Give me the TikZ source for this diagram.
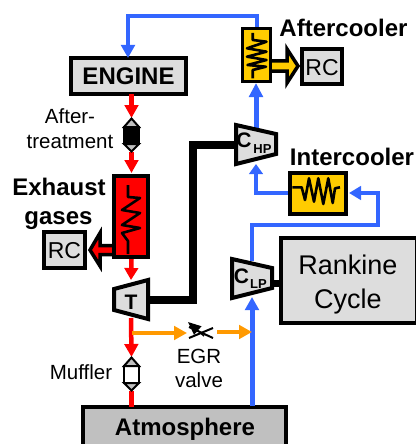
\documentclass[tikz,border=0pt]{standalone}
\usepackage{fontspec}
\setmainfont{Liberation Sans}
\usetikzlibrary{arrows.meta}
\definecolor{bl}{HTML}{3366FF}
\definecolor{rd}{HTML}{FF0000}
\definecolor{og}{HTML}{FF9900}
\definecolor{yl}{HTML}{FFCC00}
\definecolor{gy}{HTML}{DDDDDD}
\definecolor{gd}{HTML}{C0C0C0}
\newcommand{\fs}[1]{\fontsize{#1}{#1}\selectfont}
\tikzset{
 x=1pt,y=-1pt,
 boxn/.style={draw=black,line width=4pt,fill=gy,inner sep=0pt,outer sep=0pt},
 lab/.style={inner sep=0pt,outer sep=0pt,anchor=base,align=center},
 big/.style={lab,font=\fs{24}\bfseries},
 reg/.style={lab,font=\fs{20.5}},
 tipd/.style={-{Triangle[length=#1,width=13.5pt]}},
 blflow/.style={draw=bl,line width=4.4pt},
 rdflow/.style={draw=rd,line width=4.5pt},
 ogflow/.style={draw=og,line width=4pt},
 coil/.style={draw=black,line width=2.6pt,line join=round},
 machine/.style={draw=black,line width=4pt,fill=gy,line join=miter},
 catal/.style={draw=black,line width=2pt,line join=miter},
 shaftl/.style={draw=black,line width=8pt,line join=miter},
 rcarrow/.style={draw=black,line width=3.5pt,line join=miter},
}
\begin{document}
\begin{tikzpicture}
\useasboundingbox (0,0) rectangle (415,444);
% named points
\coordinate (hpL) at (236,144.5);
\coordinate (hpT) at (256,129);
\coordinate (hpB) at (256,164);
\coordinate (lpT) at (252,261);
\coordinate (lpB) at (252,297);
\coordinate (lpR) at (272,283);
\coordinate (tR) at (148,299.5);
\coordinate (tT) at (131,280);
\coordinate (tB) at (131,318);
\coordinate (atTop) at (131.5,118);
\coordinate (atBot) at (131.5,152);
\coordinate (mfTop) at (131.5,357);
\coordinate (mfBot) at (131.5,391);
\coordinate (egrS) at (132,333);
\coordinate (egrT) at (187,333);
\coordinate (egrO) at (217,332);
\coordinate (egrE) at (252,332);
\coordinate (blueA) at (128,16);
\coordinate (blueB) at (257,16);
\coordinate (blueC) at (252,225);
\coordinate (blueD) at (378,225);
\coordinate (blueE) at (378,193);
\coordinate (blueF) at (256,193);
% boxes
\node[boxn,minimum width=115pt,minimum height=36pt] (engine) at (128.5,76) {};
\node[boxn,minimum width=40pt,minimum height=35pt] (rcr) at (322,66.5) {};
\node[boxn,minimum width=41pt,minimum height=36pt] (rcl) at (64.5,250) {};
\node[boxn,minimum width=136pt,minimum height=85pt] (rank) at (349,280.5) {};
\node[boxn,fill=gd,minimum width=203pt,minimum height=50pt] (atm) at (184.5,432) {};
% shafts
\draw[shaftl] (tR) -- (193,299.5) -- (193,144.5) -- (hpL);
\draw[draw=black,line width=7pt] (lpR) -- (rank.west |- lpR);
% flows
\draw[blflow,tipd=13pt] (257,30) -- (blueB) -- (blueA) -- (engine.north -| blueA);
\draw[blflow,line width=5pt,tipd=14pt] (hpT) -- (256,83);
\draw[blflow,tipd=10pt] (288,193) -- (blueF) -- (hpB);
\draw[blflow,tipd=12pt] (lpT) -- (blueC) -- (blueD) -- (blueE) -- (349,193);
\draw[blflow,line width=5pt,tipd=13pt] (252,406) -- (lpB);
\draw[rdflow,tipd=13pt] (engine.south -| atTop) -- (atTop);
\draw[rdflow,tipd=13pt] (atBot) -- (131.5,173);
\draw[rdflow,tipd=12pt] (131.5,259) -- (tT);
\draw[rdflow,tipd=13pt] (tB) -- (mfTop);
\draw[rdflow] (mfBot) -- (atm.north -| mfBot);
\draw[ogflow,tipd=13pt] (egrS) -- (egrT);
\draw[ogflow,tipd=13pt] (egrO) -- (egrE);
% heat arrows
\draw[rcarrow,fill=yl] (270,61) -- (287,61) -- (287,49) -- (298,66) -- (287,83) -- (287,71) -- (270,71) -- cycle;
\draw[rcarrow,fill=rd] (114,245.5) -- (100,245.5) -- (100,233) -- (90,250) -- (100,266) -- (100,254.5) -- (114,254.5) -- cycle;
% heat exchangers
\node[boxn,draw=black,line width=3.5pt,fill=yl,minimum width=28pt,minimum height=53pt] (after) at (256.5,55) {};
\node[boxn,fill=yl,minimum width=56pt,minimum height=41pt] (inter) at (318,193.5) {};
\node[boxn,fill=rd,minimum width=34pt,minimum height=81pt] (exh) at (131,216.5) {};
% coils
\draw[coil] (252.7,33) -- (252.7,40) -- (266.5,41.7) -- (247,48.3) -- (266.5,51.7) -- (247,56.7) -- (266.5,60) -- (247.5,65) -- (266,66.7) -- (252.7,70) -- (252.7,78.3);
\draw[coil] (292.3,187.3) -- (301.7,187.3) -- (305,200) -- (309,178.3) -- (314,201.7) -- (318.3,178.3) -- (323.3,204) -- (328.3,178.3) -- (332.7,203) -- (335,188.3) -- (340,187.3);
\draw[coil] (128,185) -- (128,197) -- (140,198) -- (122,210) -- (140,213) -- (122,225) -- (140,228) -- (122,233) -- (128,241) -- (128,254);
% machines
\draw[machine] (236,125) -- (276,134) -- (276,154) -- (236,164) -- cycle;
\draw[machine] (232,259) -- (272,268) -- (272,288) -- (232,298) -- cycle;
\draw[machine] (114,289) -- (148,280) -- (148,319) -- (114,310) -- cycle;
% aftertreatment and muffler
\draw[catal,fill=black] (124,127) -- (139,127) -- (139,144) -- (124,144) -- cycle;
\draw[catal,fill=gd] (124,127) -- (131.5,118.5) -- (139,127) -- cycle;
\draw[catal,fill=gd] (124,144) -- (131.5,151.5) -- (139,144) -- cycle;
\draw[catal,fill=white] (124,366) -- (139,366) -- (139,383) -- (124,383) -- cycle;
\draw[catal,fill=gd] (124,366) -- (131.5,357.5) -- (139,366) -- cycle;
\draw[catal,fill=gd] (124,383) -- (131.5,390.5) -- (139,383) -- cycle;
% valve
\draw[draw=black,line width=2pt] (189,338) -- (213,328);
\draw[draw=black,line width=2pt] (189,327) -- (213,338);
\draw[draw=black,line width=1.5pt,-{Triangle[length=13pt,width=11pt]}] (204,336) -- (188,322);
% labels
\node[big] (tengine) at (128.5,84.5) {ENGINE};
\node[big] (taft) at (343.5,37) {Aftercooler};
\node[big] (tint) at (352,165) {Intercooler};
\node[big] (texh) at (59,195) {Exhaust};
\node[big] (tgas) at (58.5,224) {gases};
\node[big] (tatm) at (185,435) {Atmosphere};
\node[lab,font=\fs{23}] (trcr) at (322,75) {RC};
\node[lab,font=\fs{23}] (trcl) at (64.5,258.5) {RC};
\node[lab,font=\fs{27}] (trk) at (348,274) {Rankine};
\node[lab,font=\fs{27}] (tcy) at (348,308) {Cycle};
\node[reg] (taf1) at (70,123) {After-};
\node[reg] (taf2) at (70,148) {treatment};
\node[reg] (tmf) at (81,379) {Muffler};
\node[reg] (tegr) at (199,363) {EGR};
\node[reg] (tval) at (199,387) {valve};
\node[lab,font=\fs{21}\bfseries] (tcap) at (131,309) {T};
\node[lab,font=\fs{21}\bfseries] (tch) at (244,147.5) {C};
\node[lab,font=\fs{13}\bfseries] (tchs) at (262.5,153) {HP};
\node[lab,font=\fs{21}\bfseries] (tcl) at (241.5,283) {C};
\node[lab,font=\fs{13}\bfseries] (tcls) at (258.5,288) {LP};
\end{tikzpicture}
\end{document}
